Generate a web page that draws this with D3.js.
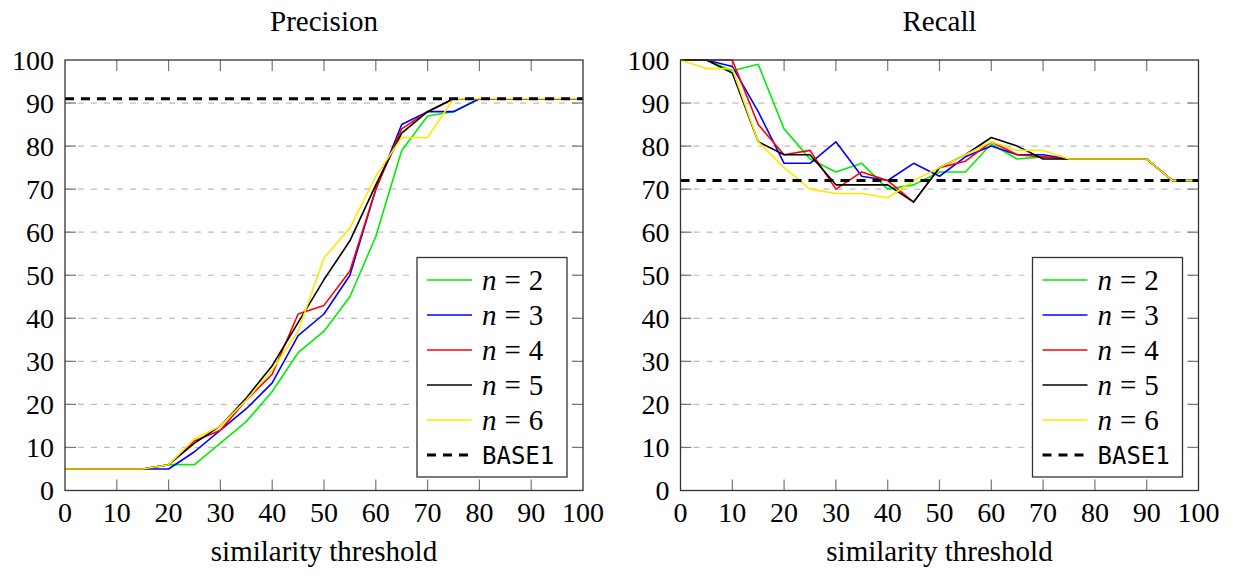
<!DOCTYPE html>
<html>
<head>
<meta charset="utf-8">
<script src="https://cdn.jsdelivr.net/npm/d3@7"></script>
<style>
  body { margin: 0; background: #fff; }
  text { font-family: "Liberation Serif", "DejaVu Serif", serif; fill: #000; }
</style>
</head>
<body>
<div id="chart"></div>
<script>
// thresholds on the x axis
var thresholds = d3.range(0, 101, 5);
var xTicks = [0,10,20,30,40,50,60,70,80,90,100];
var yTicks = [0,10,20,30,40,50,60,70,80,90,100];

var seriesNames = ["2","3","4","5","6"];
var seriesColors = ["#00ee00","#0000ff","#ff0000","#000000","#ffe800"];

// precision per n
var precN2 = [5,5,5,5,6,6,11,16,23,32,37,45,59,79,87,88,91,91,91,91,91];
var precN3 = [5,5,5,5,5,9,14,19,25,36,41,50,70,85,88,88,91,91,91,91,91];
var precN4 = [5,5,5,5,6,11.5,14,21,27,41,43,51,70,84,88,91,91,91,91,91,91];
var precN5 = [5,5,5,5,6,11,15,21.5,29,39,49,58,71,83,88,91,91,91,91,91,91];
var precN6 = [5,5,5,5,6,12,15,21,28,37,54,61,73,82,82,91,91,91,91,91,91];
var precBase = 91;

// recall per n
var recN2 = [100,100,97.5,99,84,77,74,76,70,71,74,74,80.5,77,77.5,77,77,77,77,72,72];
var recN3 = [100,100,98.5,88,76,76,81,73,72,76,73,77.5,80,78,78,77,77,77,77,72,72];
var recN4 = [100,100,100,85,78,79,70,74,72,67,75,76.5,81,78,77.5,77,77,77,77,72,72];
var recN5 = [100,100,97,81,78,78,71,71,71,67,75,78,82,80,77,77,77,77,77,72,72];
var recN6 = [100,98,98,81,75,70,69,69,68,72,75,78,81,79,79,77,77,77,77,72,72];
var recBase = 72;

var svg = d3.select("#chart").append("svg")
  .attr("width", 1233)
  .attr("height", 576);

function panel(left, title, series, base) {
  var w = 518, top = 60, bottom = 490.5;
  var x = d3.scaleLinear().domain([0,100]).range([left, left + w]);
  var y = d3.scaleLinear().domain([0,100]).range([bottom, top]);
  var g = svg.append("g");

  // dashed grid
  g.selectAll("line.grid").data(yTicks.slice(1, -1)).enter().append("line")
    .attr("x1", x(0)).attr("x2", x(100))
    .attr("y1", function(d) { return y(d); })
    .attr("y2", function(d) { return y(d); })
    .attr("stroke", "#bdbdbd").attr("stroke-width", 1.2)
    .attr("stroke-dasharray", "6,7");

  // ticks pointing inward, all four sides
  var tl = 11;
  xTicks.slice(1, -1).forEach(function(t) {
    g.append("line").attr("x1", x(t)).attr("x2", x(t)).attr("y1", bottom).attr("y2", bottom - tl)
      .attr("stroke", "#777").attr("stroke-width", 1.2);
    g.append("line").attr("x1", x(t)).attr("x2", x(t)).attr("y1", top).attr("y2", top + tl)
      .attr("stroke", "#777").attr("stroke-width", 1.2);
  });
  yTicks.slice(1, -1).forEach(function(t) {
    g.append("line").attr("x1", x(0)).attr("x2", x(0) + tl).attr("y1", y(t)).attr("y2", y(t))
      .attr("stroke", "#777").attr("stroke-width", 1.2);
    g.append("line").attr("x1", x(100)).attr("x2", x(100) - tl).attr("y1", y(t)).attr("y2", y(t))
      .attr("stroke", "#777").attr("stroke-width", 1.2);
  });

  // data lines
  var line = d3.line()
    .x(function(d, i) { return x(thresholds[i]); })
    .y(function(d) { return y(d); });
  series.forEach(function(s, k) {
    g.append("path").datum(s)
      .attr("d", line)
      .attr("fill", "none")
      .attr("stroke", seriesColors[k])
      .attr("stroke-width", 1.6)
      .attr("stroke-linejoin", "round");
  });

  // baseline
  g.append("line")
    .attr("x1", x(0)).attr("x2", x(100))
    .attr("y1", y(base)).attr("y2", y(base))
    .attr("stroke", "#000").attr("stroke-width", 3)
    .attr("stroke-dasharray", "9,7");

  // frame
  g.append("rect")
    .attr("x", x(0)).attr("y", top)
    .attr("width", w).attr("height", bottom - top)
    .attr("fill", "none").attr("stroke", "#333").attr("stroke-width", 1.3);

  // tick labels
  g.selectAll("text.xt").data(xTicks).enter().append("text")
    .attr("x", function(d) { return x(d); })
    .attr("y", 522)
    .attr("text-anchor", "middle")
    .attr("font-size", 28)
    .text(function(d) { return d; });
  g.selectAll("text.yt").data(yTicks).enter().append("text")
    .attr("x", x(0) - 11)
    .attr("y", function(d) { return y(d) + 9.5; })
    .attr("text-anchor", "end")
    .attr("font-size", 28)
    .text(function(d) { return d; });

  // titles
  g.append("text")
    .attr("x", x(50)).attr("y", 31)
    .attr("text-anchor", "middle").attr("font-size", 29)
    .text(title);
  g.append("text")
    .attr("x", x(50)).attr("y", 561)
    .attr("text-anchor", "middle").attr("font-size", 29)
    .text("similarity threshold");

  // legend
  var lx = x(100) - 166, ly = 257.5;
  var leg = g.append("g").attr("transform", "translate(" + lx + "," + ly + ")");
  leg.append("rect")
    .attr("width", 150).attr("height", 219.5)
    .attr("fill", "#fff").attr("stroke", "#333").attr("stroke-width", 1.3);
  seriesNames.forEach(function(n, k) {
    var ry = 22.5 + k * 35;
    leg.append("line").attr("x1", 10).attr("x2", 55).attr("y1", ry).attr("y2", ry)
      .attr("stroke", seriesColors[k]).attr("stroke-width", 1.6);
    var t = leg.append("text").attr("x", 65).attr("y", ry + 9.5)
      .attr("font-size", 29)
      .style("font-family", "'Liberation Serif', serif");
    t.append("tspan").attr("font-style", "italic").text("n");
    t.append("tspan").attr("dx", 8).text("=");
    t.append("tspan").attr("dx", 8).text(n);
  });
  var by = 22.5 + 5 * 35;
  leg.append("line").attr("x1", 10).attr("x2", 55).attr("y1", by).attr("y2", by)
    .attr("stroke", "#000").attr("stroke-width", 3).attr("stroke-dasharray", "9,7");
  leg.append("text").attr("x", 65).attr("y", by + 9)
    .attr("font-size", 24)
    .style("font-family", "'DejaVu Sans Mono', monospace")
    .text("BASE1");
}

panel(65, "Precision", [precN2, precN3, precN4, precN5, precN6], precBase);
panel(680.5, "Recall", [recN2, recN3, recN4, recN5, recN6], recBase);
</script>
</body>
</html>
